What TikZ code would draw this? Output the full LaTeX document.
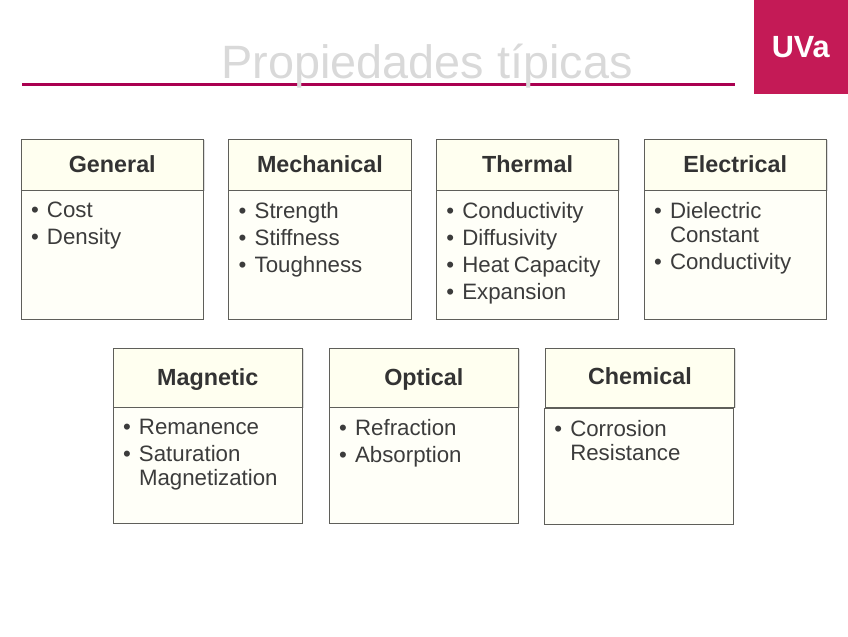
\documentclass[tikz,border=0pt]{standalone}
\usepackage{fontspec}
\setmainfont{Liberation Sans}
\usetikzlibrary{positioning,shadows}
\definecolor{uvared}{RGB}{196,26,86}
\definecolor{rulered}{RGB}{170,0,80}
\definecolor{titlegray}{RGB}{217,217,217}
\definecolor{edgegray}{RGB}{95,95,90}
\definecolor{softcream}{RGB}{255,255,240}
\definecolor{paleivory}{RGB}{255,255,248}
\definecolor{inkgray}{RGB}{60,60,60}
\newcommand{\bitem}[1]{\noindent\hangindent=12pt\hangafter=1\makebox[12pt][l]{\textbullet}#1\par}
\newcommand{\listbody}[2]{\parbox[c][#1][t]{\hsize}{\raggedright\fontsize{16.7pt}{18pt}\selectfont
  \setlength{\parskip}{2.2pt}\vspace*{7pt}#2}}

\begin{document}
\begin{tikzpicture}[
      headbox/.style={draw=edgegray, fill=softcream, line width=0.7pt, align=center,
                      inner sep=0pt, outer sep=0pt, text=inkgray!85!black,
                      text height=13.5pt, text depth=1.5pt,
                      font=\fontsize{17.5pt}{20pt}\selectfont\bfseries,
                      drop shadow={shadow xshift=0.8pt, shadow yshift=-0.8pt, opacity=0.25}},
      headtop/.style={headbox, minimum width=136.9pt, minimum height=38.25pt},
      headlow/.style={headbox, minimum width=142.1pt, minimum height=44.25pt},
      listbox/.style={draw=edgegray, fill=paleivory, line width=0.7pt, inner xsep=7.5pt,
                      inner ysep=0pt, outer sep=0pt, text=inkgray, anchor=north},
      listtop/.style={listbox, text width=121.9pt},
      listlow/.style={listbox, text width=127.1pt}
    ]
    \useasboundingbox (0,0) rectangle (636pt,-477pt);
    % title bar
    \coordinate (ruleL) at (16.5pt,-63.4pt);
    \coordinate (ruleR) at (551.5pt,-63.4pt);
    \draw[rulered, line width=2.4pt] (ruleL) -- (ruleR);
    \node[anchor=base, text=titlegray, font=\fontsize{35.1pt}{40pt}\selectfont, inner sep=0pt]
      (title) at (320.25pt,-58.5pt) {Propiedades típicas};
    \node[fill=uvared, text=white, anchor=north east, minimum width=70.5pt, minimum height=70.5pt,
          inner sep=0pt, font=\fontsize{23pt}{26pt}\selectfont\bfseries] (logo) at (636pt,0pt) {UVa};

    % first row
    \node[headtop, anchor=north west] (general) at (15.75pt,-104.25pt) {General};
    \node[headtop, right=18.85pt of general] (mechanical) {Mechanical};
    \node[headtop, right=18.85pt of mechanical] (thermal) {Thermal};
    \node[headtop, right=18.85pt of thermal] (electrical) {Electrical};
    \node[listtop] (generallist) at (general.south) {\listbody{97pt}{%
      \bitem{Cost}\bitem{Density}}};
    \node[listtop] (mechanicallist) at (mechanical.south) {\listbody{97pt}{%
      \bitem{Strength}\bitem{Stiffness}\bitem{Toughness}}};
    \node[listtop] (thermallist) at (thermal.south) {\listbody{97pt}{%
      \bitem{Conductivity}\bitem{Diffusivity}\bitem{Heat Capacity}\bitem{Expansion}}};
    \node[listtop] (electricallist) at (electrical.south) {\listbody{97pt}{%
      \bitem{Dielectric Constant}\bitem{Conductivity}}};

    % second row
    \node[headlow, anchor=north west] (magnetic) at (84.75pt,-261pt) {Magnetic};
    \node[headlow, right=20pt of magnetic] (optical) {Optical};
    \node[headlow, right=20pt of optical] (chemical) {\raisebox{0.75pt}{Chemical}};
    \node[listlow] (magneticlist) at (magnetic.south) {\listbody{87pt}{%
      \bitem{Remanence}\bitem{Saturation Magnetization}}};
    \node[listlow] (opticallist) at (optical.south) {\listbody{87pt}{%
      \bitem{Refraction}\bitem{Absorption}}};
    \node[listlow, xshift=-0.75pt, yshift=-0.75pt] (chemicallist) at (chemical.south) {\listbody{87pt}{%
      \bitem{Corrosion Resistance}}};
  \end{tikzpicture}
\end{document}
